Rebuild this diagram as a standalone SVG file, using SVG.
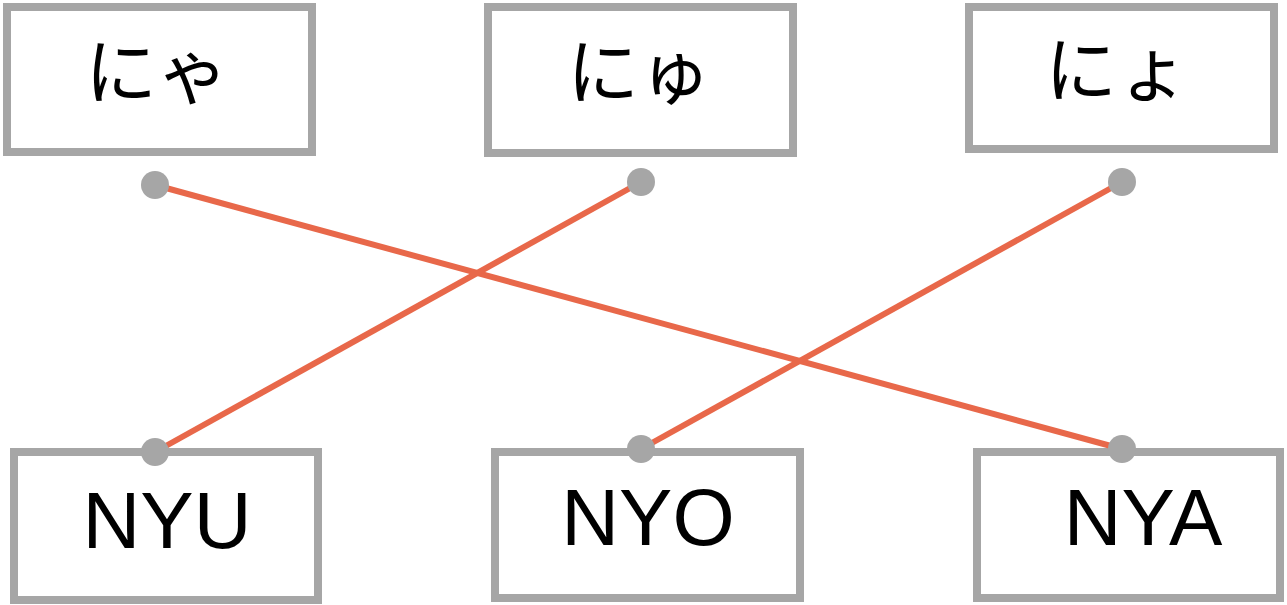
<svg xmlns="http://www.w3.org/2000/svg" width="1287" height="605" viewBox="0 0 1287 605">
<style>
.box{fill:#fff;stroke:#a6a6a6;stroke-width:8}
.jp{font-family:"Noto Sans CJK JP","Noto Sans",sans-serif;font-size:72px;fill:#000;text-anchor:middle}
.en{font-family:"Liberation Sans",Arial,sans-serif;font-size:80px;fill:#000;text-anchor:middle}
.edge{stroke:#e8684a;stroke-width:6;fill:none}
.dot{fill:#a6a6a6}
</style>
<rect width="1287" height="605" fill="#fff"/>
<g id="nya-jp"><rect class="box" x="7" y="7" width="305" height="145"/><text class="jp" x="157" y="98">にゃ</text></g>
<g id="nyu-jp"><rect class="box" x="488" y="7" width="305" height="146"/><text class="jp" x="639" y="98">にゅ</text></g>
<g id="nyo-jp"><rect class="box" x="969" y="7" width="305" height="142"/><text class="jp" x="1117" y="96">にょ</text></g>
<g id="nyu-en"><rect class="box" x="14" y="452" width="304" height="148"/><text class="en" x="167" y="548">NYU</text></g>
<g id="nyo-en"><rect class="box" x="495" y="452" width="305" height="146"/><text class="en" x="648" y="545">NYO</text></g>
<g id="nya-en"><rect class="box" x="977" y="452" width="303" height="146"/><text class="en" x="1143" y="545">NYA</text></g>
<g id="connectors">
<line class="edge" x1="155" y1="185" x2="1122" y2="449"/>
<line class="edge" x1="641" y1="182" x2="155" y2="452"/>
<line class="edge" x1="1122" y1="182" x2="641" y2="449"/>
<circle class="dot" cx="155" cy="185" r="14"/>
<circle class="dot" cx="641" cy="182" r="14"/>
<circle class="dot" cx="1122" cy="182" r="14"/>
<circle class="dot" cx="155" cy="452" r="14"/>
<circle class="dot" cx="641" cy="449" r="14"/>
<circle class="dot" cx="1122" cy="449" r="14"/>
</g>
</svg>
